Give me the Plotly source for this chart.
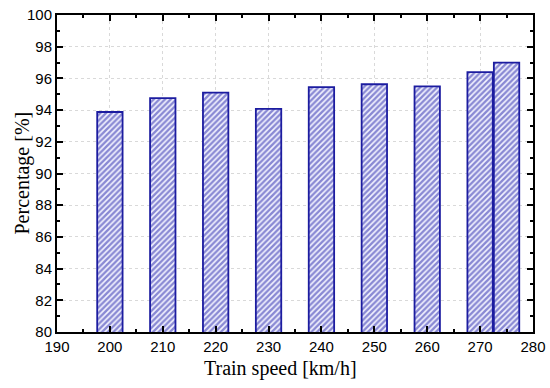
import plotly.graph_objects as go

speeds = [200, 210, 220, 230, 240, 250, 260, 270, 275]
percentages = [93.88, 94.75, 95.1, 94.08, 95.45, 95.63, 95.5, 96.4, 97.0]
x_ticks = [190, 200, 210, 220, 230, 240, 250, 260, 270, 280]
y_ticks = [80, 82, 84, 86, 88, 90, 92, 94, 96, 98, 100]

fig = go.Figure()
fig.add_trace(go.Bar(
    x=speeds, y=percentages, base=0, width=4.8,
    marker=dict(
        color="white",
        line=dict(color="#1c1ca0", width=1.8),
        pattern=dict(shape="/", fgcolor="#1e1ea8", bgcolor="#f4f4ff", size=4, solidity=0.6),
    ),
))

axis_common = dict(
    showline=True, linewidth=2, linecolor="black", mirror="ticks",
    ticks="inside", ticklen=6, tickwidth=2, tickcolor="black",
    showgrid=True, gridcolor="#d9d9d9", griddash="dot", gridwidth=1,
    zeroline=False, automargin=False, ticklabeloverflow="allow",
    tickfont=dict(family="Liberation Sans, Arial", size=15, color="black"),
)

title_font = dict(family="Liberation Serif, Times New Roman", size=20, color="black")

fig.update_layout(
    width=550, height=388,
    margin=dict(l=57, r=17, t=15, b=56),
    paper_bgcolor="white", plot_bgcolor="white",
    showlegend=False,
    xaxis=dict(
        range=[190, 280], tickvals=x_ticks,
        minor=dict(ticks="inside", dtick=5, tick0=190, ticklen=3, tickwidth=1.5, tickcolor="black", showgrid=False),
        **axis_common,
    ),
    yaxis=dict(
        range=[80, 100], tickvals=y_ticks,
        minor=dict(ticks="inside", dtick=1, tick0=80, ticklen=3, tickwidth=1.5, tickcolor="black", showgrid=False),
        **axis_common,
    ),
    annotations=[
        dict(text="Train speed [km/h]", xref="paper", yref="paper", x=0.4685, y=0,
             yshift=-36, xanchor="center", yanchor="middle", showarrow=False, font=title_font),
        dict(text="Percentage [%]", xref="paper", yref="paper", x=0, y=0.5,
             xshift=-35, xanchor="center", yanchor="middle", textangle=-90, showarrow=False, font=title_font),
    ],
)

fig.write_html("out.html", config={"displayModeBar": False},
               post_script="document.body.style.margin='0';document.body.style.overflow='hidden';")
